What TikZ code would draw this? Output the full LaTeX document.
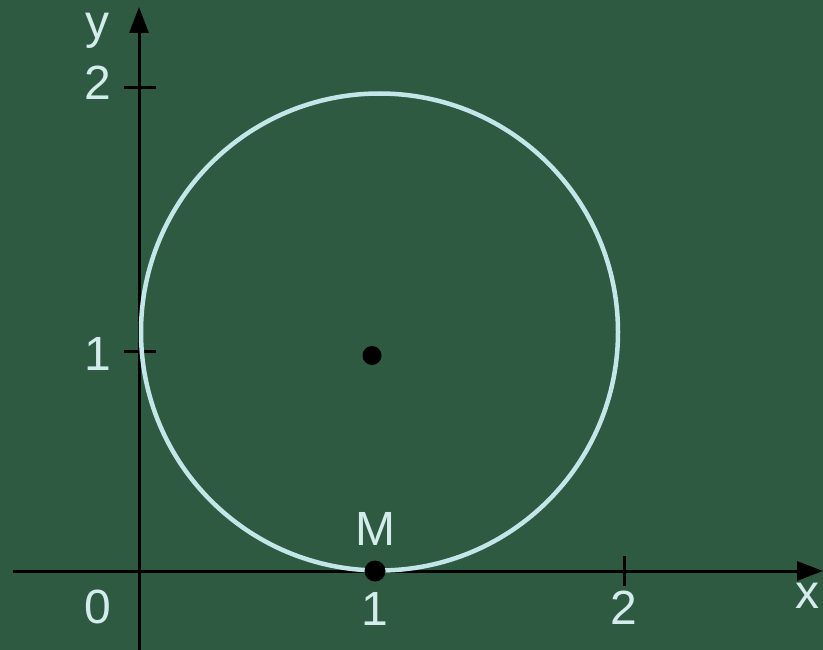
\documentclass[tikz,border=0pt]{standalone}
\usepackage{fontspec}
\setmainfont{Liberation Sans}
\usetikzlibrary{arrows.meta, positioning}
\definecolor{boardgreen}{RGB}{46,90,66}
\definecolor{chalkcyan}{RGB}{195,230,232}
\definecolor{chalktext}{RGB}{212,236,236}
\tikzset{
  axis/.style={line width=3pt, color=black, -{Triangle[length=26pt, width=19pt]}},
  tickmark/.style={line width=3pt, color=black},
  ring/.style={line width=4.5pt, color=chalkcyan},
  dot/.style={circle, fill=black, inner sep=0pt, minimum size=19pt},
  lbl/.style={text=chalktext, font=\fontsize{48}{50}\selectfont, inner sep=0pt}
}

\begin{document}
\begin{tikzpicture}[x=1pt, y=-1pt]
  % Board
  \fill[boardgreen] (0,0) rectangle (823,650);
  \useasboundingbox (0,0) rectangle (823,650);

  % Axes
  \coordinate (xstart) at (13,571);
  \coordinate (xend) at (823,571);
  \coordinate (ystart) at (139,652);
  \coordinate (yend) at (139,7);
  \draw[axis] (xstart) -- (xend);
  \draw[axis] (ystart) -- (yend);

  % Ticks
  \draw[tickmark] (124,88) -- (156,88);
  \draw[tickmark] (124,351) -- (156,351);
  \draw[tickmark] (624,556) -- (624,586);

  % Circle
  \draw[ring] (379.5,332) circle[radius=238.5];

  % Points
  \node[dot] (centre) at (372,355.5) {};
  \node[dot, minimum size=21pt] (m) at (375,571) {};

  % Labels
  \node[lbl] (ylabel) at (97,31) {y};
  \node[lbl] (ytwo) at (98,83) {2};
  \node[lbl] (yone) at (98,354) {1};
  \node[lbl] (origin) at (98,607) {0};
  \node[lbl, above=15pt of m] (mlabel) {M};
  \node[lbl, below=11pt of m] (xone) {1};
  \node[lbl] (xtwo) at (624,608) {2};
  \node[lbl] (xlabel) at (807,596) {x};
\end{tikzpicture}
\end{document}
